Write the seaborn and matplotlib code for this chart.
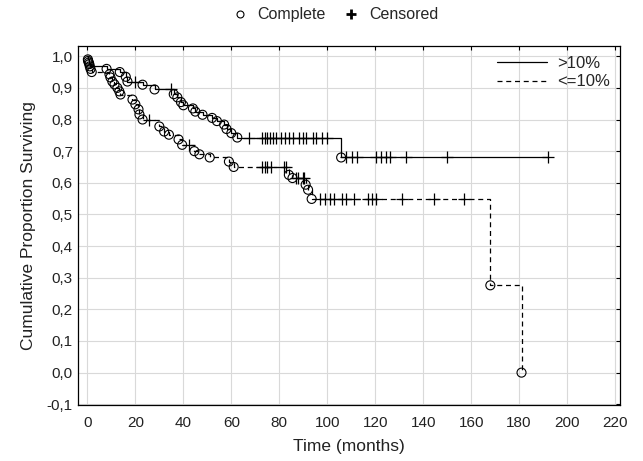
import numpy as np
import pandas as pd
import matplotlib
matplotlib.use('Agg')
import matplotlib.pyplot as plt
from matplotlib.lines import Line2D
from matplotlib.ticker import FuncFormatter
import seaborn as sns

sns.set_style('whitegrid')
plt.rcParams['font.family'] = ['Liberation Sans', 'DejaVu Sans']

# Grupo >10% (linha cheia): tempos de evento e sobrevida depois de cada evento
hi_event_t = [0.2, 0.6, 1.0, 8, 13.5, 16, 16.7, 23, 28, 36, 37.5, 39, 40, 44,
              45, 48, 52, 54, 57, 58, 60, 62.5, 105.8]
hi_event_s = [0.99, 0.98, 0.968, 0.96, 0.95, 0.935, 0.92, 0.91, 0.895, 0.88,
              0.87, 0.855, 0.845, 0.835, 0.825, 0.815, 0.805, 0.795, 0.784,
              0.77, 0.757, 0.743, 0.68]
hi_censor_t = [20, 35, 67.5, 72.9, 74.2, 75, 76.3, 77.5, 78.8, 80.8, 82.5, 84.2,
               85.8, 88.3, 90, 91.3, 94.2, 95.4, 97.9, 100, 108, 110.5, 112.5,
               120.5, 122.5, 124.5, 126, 133, 150, 192]

# Grupo <=10% (linha tracejada)
lo_event_t = [0.3, 0.8, 1.3, 1.8, 9.2, 9.6, 10.4, 11.3, 12.5, 13.3, 13.8, 18.8,
              20, 21.3, 21.7, 23, 30, 32, 34, 38, 39.5, 44.6, 46.7, 51, 59, 61,
              84, 85.5, 91, 92, 93.5, 168, 181]
lo_event_s = [0.985, 0.975, 0.96, 0.95, 0.943, 0.933, 0.92, 0.911, 0.90, 0.889,
              0.879, 0.863, 0.848, 0.832, 0.816, 0.80, 0.778, 0.762, 0.752, 0.737,
              0.72, 0.70, 0.69, 0.68, 0.667, 0.65, 0.625, 0.615, 0.594, 0.578,
              0.549, 0.276, 0.0]
lo_censor_t = [25.8, 42.5, 73, 74, 75, 76.5, 82, 83, 87, 88, 90, 90.5, 97, 99,
               101, 103, 106, 108, 111, 117, 118.5, 120.5, 131, 144.6, 157]

x_ticks = list(range(0, 221, 20))
y_ticks = [round(v, 1) for v in np.arange(-0.1, 1.01, 0.1)]


def step_curve(ev_t, ev_s, cens_t):
    t = [0.0] + list(ev_t)
    s = [1.0] + list(ev_s)
    end = max(max(cens_t), max(ev_t))
    t.append(end)
    s.append(s[-1])
    # sobrevida no instante de cada censura
    idx = np.searchsorted(np.array(t[:-1]), np.array(cens_t), side='right') - 1
    cs = np.array(s)[idx]
    return pd.DataFrame({'t': t, 's': s}), pd.DataFrame({'t': cens_t, 's': cs})


fig = plt.figure(figsize=(6.43, 4.61), dpi=100)
ax = fig.add_axes([0.121, 0.121, 0.843, 0.779])

groups = [(hi_event_t, hi_event_s, hi_censor_t, '-'),
          (lo_event_t, lo_event_s, lo_censor_t, (0, (4, 3)))]

for ev_t, ev_s, cens_t, ls in groups:
    curve, cens = step_curve(ev_t, ev_s, cens_t)
    sns.lineplot(data=curve, x='t', y='s', ax=ax, color='black', linewidth=0.9,
                 drawstyle='steps-post', estimator=None, sort=False, linestyle=ls)
    ev = pd.DataFrame({'t': ev_t, 's': ev_s})
    ax.scatter(ev['t'], ev['s'], s=42, facecolors='none', edgecolors='black',
               linewidths=0.8, zorder=3)
    ax.scatter(cens['t'], cens['s'], s=64, marker='+', color='black',
               linewidths=0.9, zorder=3)

ax.set_xlim(-4, 222)
ax.set_ylim(-0.103, 1.032)
ax.set_xticks(x_ticks)
ax.set_yticks(y_ticks)
ax.yaxis.set_major_formatter(FuncFormatter(lambda v, p: f'{v:.1f}'.replace('.', ',')))
ax.tick_params(direction='in', length=3, labelsize=11, colors='black',
               top=True, right=True, labelcolor='#222222')
ax.tick_params(axis='x', pad=8)
ax.grid(True, color='#d9d9d9', linewidth=0.8)
for sp in ax.spines.values():
    sp.set_color('black')
    sp.set_linewidth(0.9)

ax.set_xlabel('Time (months)', fontsize=12.5, color='#222222', labelpad=6)
ax.set_ylabel('Cumulative Proportion Surviving', fontsize=12.5, color='#222222', labelpad=8)

ax.legend(handles=[Line2D([], [], color='black', lw=0.9, ls='-'),
                   Line2D([], [], color='black', lw=0.9, ls=(0, (4, 3)))],
          labels=['>10%', '<=10%'], loc='upper right', frameon=False,
          fontsize=12, handlelength=3.0, borderaxespad=0.2, labelspacing=0.2,
          handletextpad=0.6)

fig.legend(handles=[Line2D([], [], ls='none', marker='o', mfc='none', mec='black', ms=5, mew=0.8),
                    Line2D([], [], ls='none', marker='+', color='black', ms=7, mew=2)],
           labels=['Complete', 'Censored'], loc='upper center', ncol=2, frameon=False,
           fontsize=11.5, bbox_to_anchor=(0.52, 1.015), handletextpad=0.5, columnspacing=1.0,
           handlelength=1.2)

fig.savefig('out.png', dpi=100)
